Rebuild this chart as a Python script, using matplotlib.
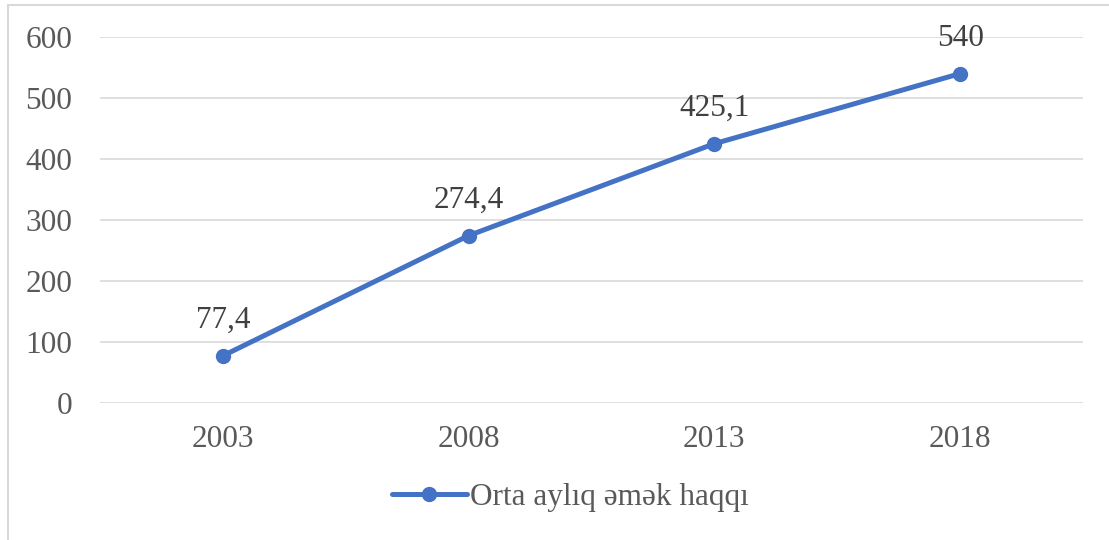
import matplotlib
matplotlib.use("Agg")
import matplotlib.pyplot as plt
from matplotlib.patches import Rectangle
from matplotlib.lines import Line2D

years = ["2003", "2008", "2013", "2018"]
values = [77.4, 274.4, 425.1, 540]
labels = ["77,4", "274,4", "425,1", "540"]
yticks = [0, 100, 200, 300, 400, 500, 600]
series_name = "Orta aylıq əmək haqqı"

plt.rcParams['font.family'] = ['Liberation Serif', 'DejaVu Serif']
txt = '#595959'
blue = '#4472C4'
fs = 22.5

fig = plt.figure(figsize=(11.09, 5.40), dpi=100)
fig.patches.append(Rectangle((8/1109, -0.1), 1.2, 1 - 5/540 + 0.1, transform=fig.transFigure,
                             fill=False, edgecolor='#D9D9D9', linewidth=1.5, zorder=0))

ax = fig.add_axes([100/1109, 1 - 403/540, (1083 - 100)/1109, (403 - 37)/540])
x = list(range(len(years)))
ax.plot(x, values, color=blue, linewidth=3.6, marker='o', markersize=10, zorder=3,
        solid_capstyle='round')
for xi, v, l in zip(x, values, labels):
    ax.annotate(l, (xi, v), xytext=(0, 15), textcoords='offset points', ha='center',
                va='bottom', fontsize=fs, color='#404040')

ax.set_xlim(-0.5, 3.5)
ax.set_ylim(0, 600)
ax.set_yticks(yticks)
ax.set_xticks(x)
ax.set_xticklabels(years)
ax.grid(axis='y', color='#D9D9D9', linewidth=1.2)
ax.set_axisbelow(True)
for s in ax.spines.values():
    s.set_visible(False)
ax.tick_params(axis='both', length=0, labelsize=fs, colors=txt)
ax.tick_params(axis='y', pad=20)
ax.tick_params(axis='x', pad=16)

handle = Line2D([], [], color=blue, linewidth=3.6, marker='o', markersize=10,
                solid_capstyle='round')
fig.legend([handle], [series_name], loc='center', bbox_to_anchor=(0.514, 1 - 497/540),
           frameon=False, fontsize=fs, labelcolor=txt, handlelength=2.4, handletextpad=0.1)

fig.savefig("out.png", dpi=100)
